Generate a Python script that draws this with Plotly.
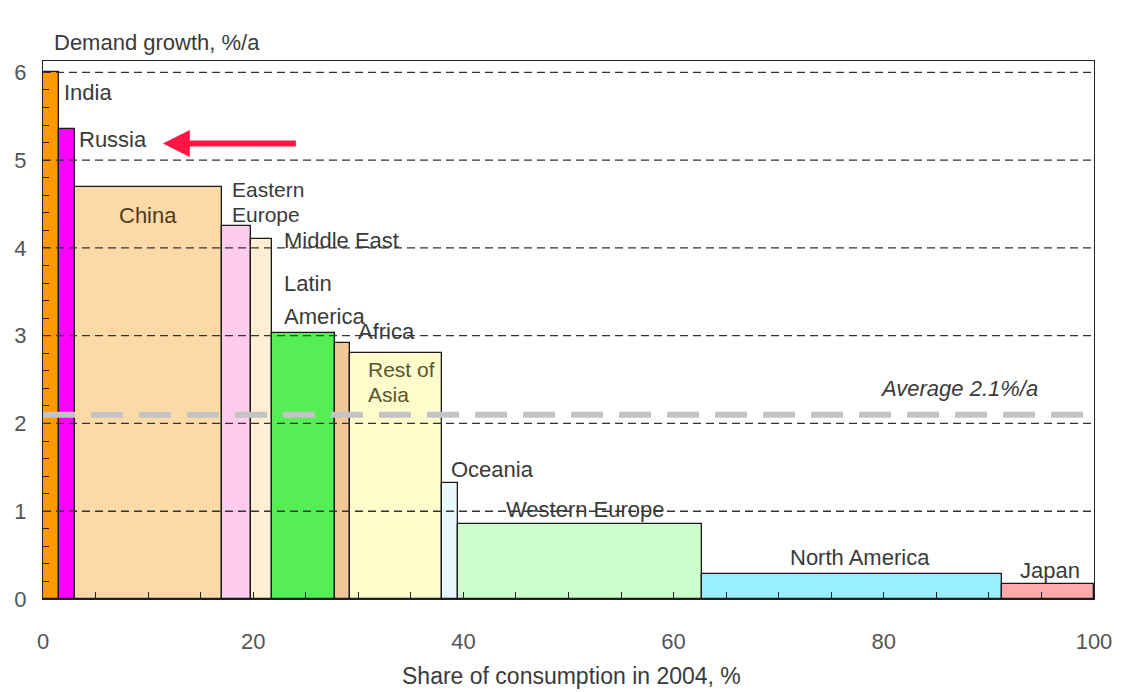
import plotly.graph_objects as go

# Regional oil demand: share of 2004 consumption (bar width) vs. demand growth (bar height)
regions = ["India", "Russia", "China", "Eastern Europe", "Middle East", "Latin America",
           "Africa", "Rest of Asia", "Oceania", "Western Europe", "North America", "Japan"]
share_2004 = [1.5, 1.5, 14.0, 2.8, 2.0, 6.0, 1.4, 8.8, 1.5, 23.2, 28.5, 8.8]
growth = [6.0, 5.35, 4.7, 4.25, 4.1, 3.03, 2.92, 2.8, 1.32, 0.86, 0.29, 0.17]
colors = ["#FF9900", "#FF00FF", "#FCDAA8", "#FFCCEE", "#FFEFD2", "#55EE55",
          "#F0C898", "#FFFCCC", "#E8F8FF", "#CCFFCC", "#99EEFF", "#FFAAAA"]
average_growth = 2.1
x_ticks = [0, 20, 40, 60, 80, 100]
y_ticks = [0, 1, 2, 3, 4, 5, 6]

# left edges / centres of the variable-width bars
lefts = []
acc = 0.0
for w in share_2004:
    lefts.append(acc)
    acc += w
centres = [l + w / 2 for l, w in zip(lefts, share_2004)]

FONT = "Liberation Sans, Arial, sans-serif"
TXT = "#3a3a3a"
LBL = 22

fig = go.Figure()
fig.add_trace(go.Bar(
    x=centres, y=growth, width=share_2004, base=0,
    marker=dict(color=colors, line=dict(color="#1a1a1a", width=1.3)),
    hoverinfo="skip", showlegend=False,
))

shapes = []
# dashed horizontal grid drawn over the bars
for yv in y_ticks[1:]:
    shapes.append(dict(type="line", xref="x", yref="y", x0=0, x1=100, y0=yv, y1=yv,
                       line=dict(color="#333333", width=1.3, dash="8px,5px"), layer="above"))
# world average line
shapes.append(dict(type="line", xref="x", yref="y", x0=0, x1=100,
                   y0=average_growth, y1=average_growth,
                   line=dict(color="#C4C4C4", width=6, dash="32px,16px"), layer="above"))

ann = []


def label(text, x, y, xanchor="left", color=TXT, italic=False, size=LBL):
    ann.append(dict(text=f"<i>{text}</i>" if italic else text, x=x, y=y, xref="x", yref="y",
                    xanchor=xanchor, yanchor="middle", showarrow=False,
                    font=dict(family=FONT, size=size, color=color)))


idx = {r: i for i, r in enumerate(regions)}
label("India", 1.8, 5.77)
label("Russia", 3.2, 5.23)
label("China", centres[idx["China"]], 4.37, "center", "#4d3b22")
label("Eastern", 17.8, 4.67, size=21)
label("Europe", 17.8, 4.38, size=21)
label("Middle East", 22.7, 4.09)
label("Latin", 22.7, 3.59)
label("America", 22.7, 3.22)
label("Africa", 29.8, 3.05)
label("Rest of", 30.7, 2.61, color="#57572e", size=21)
label("Asia", 30.7, 2.33, color="#57572e", size=21)
label("Oceania", 38.6, 1.48)
label("Western Europe", 51.6, 1.02, "center")
label("North America", 77.7, 0.47, "center")
label("Japan", 95.8, 0.33, "center")
label(f"Average {average_growth}%/a", 94.9, 2.40, "right", italic=True)

# red arrow pointing at Russia
ann.append(dict(x=11.4, y=5.19, ax=24.2, ay=5.19, xref="x", yref="y", axref="x", ayref="y",
                text="", showarrow=True, arrowhead=2, arrowsize=0.9, arrowwidth=6,
                arrowcolor="#FF1744"))

# axis titles
ann.append(dict(text="Demand growth, %/a", x=0.85, y=1.034, xref="x", yref="paper",
                xanchor="left", yanchor="middle", showarrow=False,
                font=dict(family=FONT, size=LBL, color=TXT)))
ann.append(dict(text="Share of consumption in 2004, %", x=50.3, y=0, xref="x", yref="paper",
                xanchor="center", yanchor="middle", yshift=-77, showarrow=False,
                font=dict(family=FONT, size=23, color=TXT)))

fig.update_layout(
    width=1127, height=692,
    margin=dict(l=43, r=33, t=61, b=93),
    paper_bgcolor="white", plot_bgcolor="white",
    bargap=0, shapes=shapes, annotations=ann,
    xaxis=dict(range=[0, 100], tickvals=x_ticks, ticks="inside", ticklen=7, tickcolor="#222",
               showgrid=False, zeroline=False, showline=True, mirror=True,
               linecolor="#222", linewidth=1.3,
               minor=dict(dtick=5, ticks="inside", ticklen=7, tickcolor="#222", showgrid=False),
               tickfont=dict(family=FONT, size=22, color="#555"), ticklabelstandoff=22),
    yaxis=dict(range=[0, 6.13], tickvals=y_ticks, ticks="inside", ticklen=6, tickcolor="#222",
               showgrid=False, zeroline=False, showline=True, mirror=True,
               linecolor="#222", linewidth=1.3,
               minor=dict(dtick=0.2, ticks="inside", ticklen=6, tickcolor="#222", showgrid=False),
               tickfont=dict(family=FONT, size=22, color="#555"), ticklabelstandoff=11),
)

fig.write_html("out.html")
